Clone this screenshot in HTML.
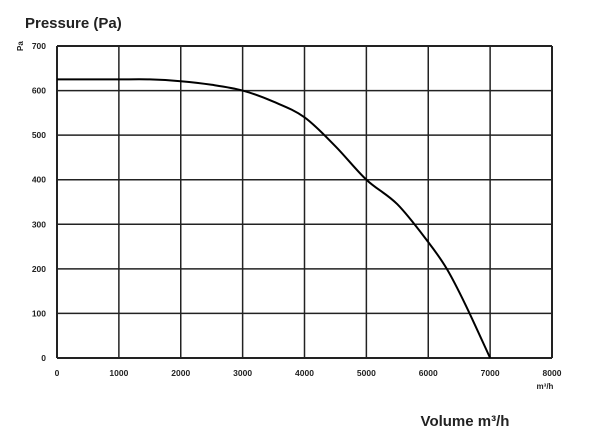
<!DOCTYPE html>
<html><head><meta charset="utf-8"><style>
body{margin:0;background:#fff;width:604px;height:439px;overflow:hidden}
svg text{font-family:"Liberation Sans",sans-serif;fill:#222}
</style></head><body>
<svg id="chart" width="604" height="439" xmlns="http://www.w3.org/2000/svg">
<text x="25" y="28" font-size="15" font-weight="bold">Pressure (Pa)</text>
<text x="0" y="0" font-size="8" font-weight="bold" transform="translate(23,51) rotate(-90)">Pa</text>
<text x="545" y="389" font-size="8" font-weight="bold" text-anchor="middle">m³/h</text>
<text x="465" y="426" font-size="15" font-weight="bold" text-anchor="middle">Volume m³/h</text>
<g id="grid"></g><g id="ticks"></g>
<path id="curve" fill="none" stroke="#000" stroke-width="2"/>
</svg>
<script>
const xTicks=[0,1000,2000,3000,4000,5000,6000,7000,8000];
const yTicks=[0,100,200,300,400,500,600,700];
const volume=[0,500,1000,1500,2000,2500,3000,3500,4000,4500,5000,5500,6000,6300,6600,7000];
const pressure=[625,625,625,625,621,613,600,575,540,475,400,345,260,200,120,0];
const L=57,R=552,T=46,B=358;
const sx=v=>L+(v-0)/(8000)*(R-L);
const sy=v=>B-(v/700)*(B-T);
const NS="http://www.w3.org/2000/svg";
const g=document.getElementById('grid'),tk=document.getElementById('ticks');
xTicks.forEach(v=>{const l=document.createElementNS(NS,'line');


l.setAttribute('x1',sx(v));l.setAttribute('x2',sx(v));l.setAttribute('y1',T);l.setAttribute('y2',B);
l.setAttribute('stroke','#222');l.setAttribute('stroke-width',v==0||v==8000?2:1.5);g.appendChild(l);
const t=document.createElementNS(NS,'text');


t.setAttribute('x',sx(v));t.setAttribute('y',376);t.setAttribute('font-size','8.5');t.setAttribute('font-weight','bold');t.setAttribute('text-anchor','middle');t.textContent=v;tk.appendChild(t);});
yTicks.forEach(v=>{const l=document.createElementNS(NS,'line');


l.setAttribute('x1',L);l.setAttribute('x2',R);l.setAttribute('y1',sy(v));l.setAttribute('y2',sy(v));
l.setAttribute('stroke','#222');l.setAttribute('stroke-width',v==0||v==700?2:1.5);g.appendChild(l);
const t=document.createElementNS(NS,'text');


t.setAttribute('x',46);t.setAttribute('y',sy(v)+3);t.setAttribute('font-size','8.5');t.setAttribute('font-weight','bold');t.setAttribute('text-anchor','end');t.textContent=v;tk.appendChild(t);});
let d='';
for(let i=0;i<volume.length;i++){const x=sx(volume[i]),y=sy(pressure[i]);
if(i==0)d+=`M${x},${y}`;else{const px=sx(volume[i-1]),py=sy(pressure[i-1]);
const p0=i>1?[sx(volume[i-2]),sy(pressure[i-2])]:[px,py];
const p3=i<volume.length-1?[sx(volume[i+1]),sy(pressure[i+1])]:[x,y];
const c1x=px+(x-p0[0])/6,c1y=py+(y-p0[1])/6,c2x=x-(p3[0]-px)/6,c2y=y-(p3[1]-py)/6;
d+=` C${c1x},${c1y} ${c2x},${c2y} ${x},${y}`;}}
document.getElementById('curve').setAttribute('d',d);
</script>
</body></html>
